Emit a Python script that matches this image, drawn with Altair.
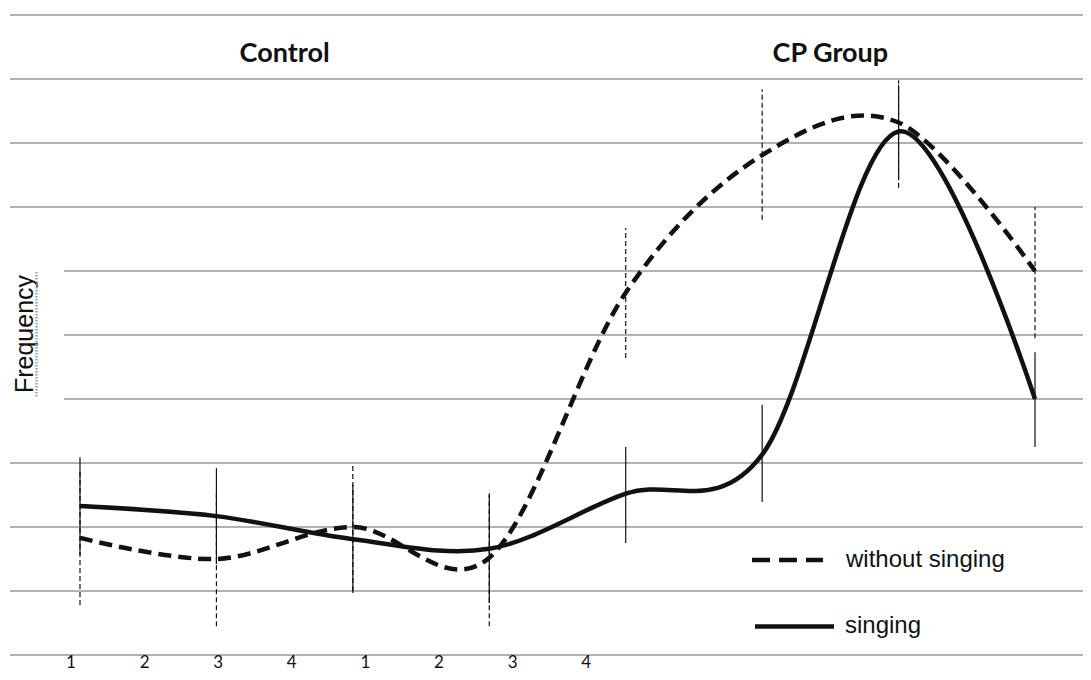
import altair as alt
import pandas as pd

# ---- data ----
session_index = [1, 2, 3, 4, 5, 6, 7, 8]
group = ["Control"] * 4 + ["CP Group"] * 4
tick_labels = ["1", "2", "3", "4", "1", "2", "3", "4"]

singing = [2.33, 2.17, 1.81, 1.66, 2.52, 3.13, 8.18, 4.00]
singing_lo = [1.56, 1.42, 0.97, 0.81, 1.75, 2.39, 7.42, 3.25]
singing_hi = [3.09, 2.92, 2.66, 2.50, 3.25, 3.91, 8.91, 4.73]

without = [1.83, 1.50, 2.00, 1.52, 5.66, 7.81, 8.32, 6.00]
without_lo = [0.78, 0.45, 1.00, 0.45, 4.64, 6.80, 7.30, 4.95]
without_hi = [2.88, 2.55, 3.00, 2.58, 6.67, 8.84, 8.98, 7.00]

grid_levels = list(range(0, 11))
short_grid_levels = [4, 5, 6]

# ---- tables ----
df = pd.DataFrame({
    "s": session_index,
    "group": group,
    "singing": singing, "singing_lo": singing_lo, "singing_hi": singing_hi,
    "without": without, "without_lo": without_lo, "without_hi": without_hi,
})
groups_df = df.groupby("group", as_index=False)["s"].mean()
ticks_df = pd.DataFrame({"k": list(range(len(tick_labels))), "label": tick_labels})
grid_df = pd.DataFrame({"level": grid_levels})
grid_df["short"] = grid_df["level"].isin(short_grid_levels)

W, H = 1075, 664
X = alt.Scale(domain=[0.4723, 1 + (W - 72) / 136.43], range=[0, W])
Y = alt.Scale(domain=[10 + 7 / 64 - H / 64, 10 + 7 / 64], range=[H, 0])
XT = alt.Scale(domain=[-63 / 73.6, (W - 63) / 73.6], range=[0, W])

base = alt.Chart(df)
black = "#111111"

grid_full = alt.Chart(grid_df).transform_filter("!datum.short").mark_rule(
    color="#999999", strokeWidth=1.5
).encode(x=alt.value(2), x2=alt.value(W), y=alt.Y("level:Q", scale=Y, axis=None))
grid_short = alt.Chart(grid_df).transform_filter("datum.short").mark_rule(
    color="#999999", strokeWidth=1.5
).encode(x=alt.value(56), x2=alt.value(W), y=alt.Y("level:Q", scale=Y, axis=None))

err_without = base.mark_rule(color=black, strokeWidth=1.2, strokeDash=[5, 3]).encode(
    x=alt.X("s:Q", scale=X, axis=None),
    y=alt.Y("without_lo:Q", scale=Y, axis=None),
    y2="without_hi:Q",
)
err_singing = base.mark_rule(color=black, strokeWidth=1.2).encode(
    x=alt.X("s:Q", scale=X, axis=None),
    y=alt.Y("singing_lo:Q", scale=Y, axis=None),
    y2="singing_hi:Q",
)

line_without = base.mark_line(
    color=black, strokeWidth=4.5, strokeDash=[13, 7], interpolate="cardinal", tension=0
).encode(x=alt.X("s:Q", scale=X, axis=None), y=alt.Y("without:Q", scale=Y, axis=None))
line_singing = base.mark_line(
    color=black, strokeWidth=4.5, interpolate="cardinal", tension=0
).encode(x=alt.X("s:Q", scale=X, axis=None), y=alt.Y("singing:Q", scale=Y, axis=None))

titles = alt.Chart(groups_df).mark_text(
    font="Lato", fontWeight="bold", fontSize=27, color=black, align="center", baseline="alphabetic"
).encode(x=alt.X("s:Q", scale=X, axis=None), y=alt.value(54), text="group:N")

ticks = alt.Chart(ticks_df).mark_text(
    font="Lato", fontSize=17, color=black, align="center", baseline="bottom"
).encode(x=alt.X("k:Q", scale=XT, axis=None), y=alt.value(H), text="label:N")

ylabel = alt.Chart(pd.DataFrame({"t": ["Frequency"]})).mark_text(
    font="Liberation Sans", fontSize=25, color=black, angle=270, align="center", baseline="alphabetic"
).encode(x=alt.value(25), y=alt.value(326), text="t:N")
squiggle = alt.Chart(pd.DataFrame({"t": ["Frequency"]})).mark_rule(
    color="#a0a0a0", strokeWidth=2.5, strokeDash=[1.5, 1.5]
).encode(x=alt.value(28.5), y=alt.value(264), y2=alt.value(389))

leg_names = ["without singing", "singing"]
leg_df = pd.DataFrame({"name": leg_names})
leg_dash = alt.Chart(leg_df).transform_filter("datum.name == 'without singing'").mark_rule(
    color=black, strokeWidth=4.5, strokeDash=[18, 9]
).encode(x=alt.value(744), x2=alt.value(815), y=alt.value(552))
leg_solid = alt.Chart(leg_df).transform_filter("datum.name == 'singing'").mark_rule(
    color=black, strokeWidth=4.5
).encode(x=alt.value(747), x2=alt.value(826), y=alt.value(618.5))
leg_t1 = alt.Chart(leg_df).transform_filter("datum.name == 'without singing'").mark_text(
    font="Liberation Sans", fontSize=24, color=black, align="left", baseline="alphabetic"
).encode(x=alt.value(838), y=alt.value(559), text="name:N")
leg_t2 = alt.Chart(leg_df).transform_filter("datum.name == 'singing'").mark_text(
    font="Liberation Sans", fontSize=24, color=black, align="left", baseline="alphabetic"
).encode(x=alt.value(837), y=alt.value(625), text="name:N")

chart = alt.layer(
    grid_full, grid_short, err_without, err_singing, line_without, line_singing,
    titles, ticks, ylabel, squiggle, leg_dash, leg_solid, leg_t1, leg_t2,
).resolve_scale(x="independent").properties(
    width=W, height=H, autosize=alt.AutoSizeParams(type="none"), padding=0
).configure_view(stroke=None)

chart.save("out.html", embed_options={"renderer": "svg", "actions": False})
